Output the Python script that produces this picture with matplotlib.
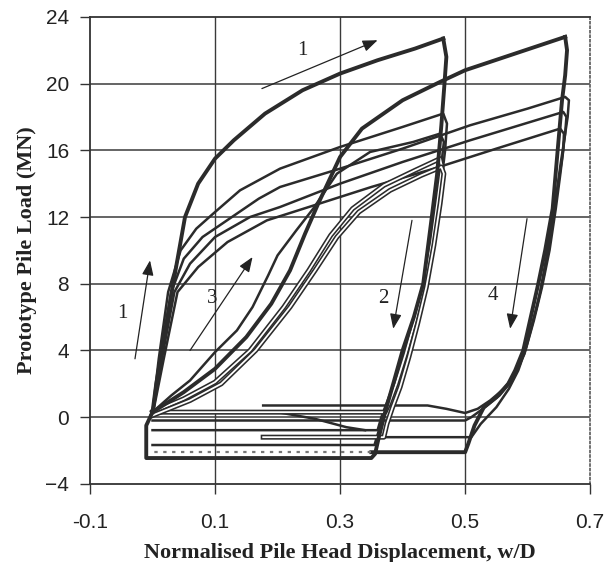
import matplotlib
matplotlib.use("Agg")
import matplotlib.pyplot as plt

# ---- datos (w/D, MN) ----
virgin_x = [0.0, 0.006, 0.015, 0.033, 0.052, 0.073, 0.1, 0.13, 0.18, 0.24, 0.3, 0.36, 0.42, 0.465]
virgin_y = [0.3, 2.0, 4.0, 8.0, 12.0, 14.0, 15.5, 16.6, 18.2, 19.6, 20.6, 21.4, 22.1, 22.7]

unload1_x = [0.465, 0.470, 0.467, 0.462, 0.455, 0.445, 0.433, 0.418, 0.40, 0.385, 0.372, 0.362, 0.356, 0.35, 0.0, -0.01, -0.01, 0.0]
unload1_y = [22.7, 21.6, 20.0, 17.5, 14.5, 11.5, 8.0, 6.0, 4.0, 2.0, 0.3, -1.2, -2.2, -2.45, -2.45, -2.45, -0.5, 0.3]

reload2_x = [0.0, 0.05, 0.1, 0.15, 0.19, 0.22, 0.244, 0.265, 0.3, 0.335, 0.4, 0.46, 0.5, 0.58, 0.66]
reload2_y = [0.3, 1.5, 2.9, 4.8, 6.8, 8.8, 11.0, 12.8, 15.6, 17.3, 19.0, 20.1, 20.8, 21.8, 22.8]

unload4_x = [0.66, 0.663, 0.66, 0.655, 0.648, 0.64, 0.628, 0.617, 0.605, 0.593, 0.58, 0.569, 0.55, 0.53, 0.515, 0.505, 0.5, 0.35]
unload4_y = [22.8, 22.0, 20.5, 19.0, 16.0, 12.5, 10.0, 8.0, 6.0, 4.0, 2.8, 2.0, 1.2, 0.6, -0.5, -1.6, -2.1, -2.1]
return4_x = [0.35, 0.0]
return4_y = [-2.1, -2.1]

# lazos hasta w/D = 0.46
loop_a_x = [0.0, 0.01, 0.025, 0.045, 0.07, 0.097, 0.14, 0.204, 0.3, 0.4, 0.465,
            0.471, 0.468, 0.46, 0.45, 0.437, 0.42, 0.403, 0.388, 0.375, 0.366, 0.36, 0.0]
loop_a_y = [0.3, 3.5, 7.5, 10.0, 11.3, 12.2, 13.6, 14.9, 16.2, 17.4, 18.2,
            17.6, 16.0, 13.5, 11.0, 8.3, 6.0, 4.0, 2.2, 0.9, 0.0, -0.78, -0.78]

loop3_up_x = [0.0, 0.03, 0.06, 0.1, 0.135, 0.16, 0.185, 0.2, 0.23, 0.257, 0.295, 0.348, 0.417, 0.46,
              0.466, 0.46, 0.452, 0.44, 0.425, 0.41, 0.393, 0.38, 0.37, 0.362, 0.355, 0.0]
loop3_up_y = [0.3, 1.3, 2.2, 3.9, 5.2, 6.6, 8.5, 9.7, 11.2, 12.5, 14.6, 15.9, 16.5, 17.0,
              16.5, 14.5, 12.0, 9.0, 6.5, 4.5, 2.5, 1.2, 0.3, -0.8, -1.67, -1.67]

loop3_lo_x = [0.0, 0.05, 0.1, 0.156, 0.21, 0.25, 0.285, 0.32, 0.37, 0.42, 0.46,
              0.463, 0.456, 0.447, 0.435, 0.42, 0.405, 0.39, 0.378, 0.372, 0.0]
loop3_lo_y = [0.3, 1.1, 2.1, 4.0, 6.6, 8.8, 10.9, 12.5, 13.9, 14.8, 15.5,
              15.0, 13.0, 10.5, 8.0, 5.8, 3.8, 2.0, 0.8, 0.3, 0.3]

loop3_lo2_x = [0.0, 0.06, 0.11, 0.165, 0.22, 0.26, 0.295, 0.33, 0.38, 0.43, 0.462,
               0.466, 0.46, 0.45, 0.438, 0.424, 0.41, 0.396, 0.384, 0.375, 0.37, 0.177]
loop3_lo2_y = [0.1, 1.0, 2.0, 4.0, 6.6, 8.8, 10.8, 12.3, 13.6, 14.5, 15.0,
               14.6, 12.8, 10.3, 7.8, 5.6, 3.6, 1.8, 0.6, -0.4, -1.2, -1.2]

# lazos hasta w/D = 0.66
loop_b_x = [0.0, 0.012, 0.03, 0.05, 0.08, 0.127, 0.17, 0.204, 0.3, 0.4, 0.508, 0.6, 0.66,
            0.666, 0.664, 0.66, 0.652, 0.643, 0.632, 0.62, 0.607, 0.595, 0.58, 0.562, 0.54,
            0.52, 0.5, 0.47, 0.44, 0.177]
loop_b_y = [0.3, 3.5, 7.5, 9.5, 10.8, 12.0, 13.1, 13.8, 14.9, 16.1, 17.5, 18.5, 19.2,
            19.0, 18.0, 17.0, 15.0, 12.5, 10.0, 7.5, 5.5, 3.8, 2.6, 1.7, 1.0,
            0.5, 0.25, 0.5, 0.7, 0.7]

loop_c_x = [0.0, 0.015, 0.035, 0.06, 0.1, 0.156, 0.204, 0.3, 0.4, 0.508, 0.657,
            0.662, 0.66, 0.655, 0.647, 0.637, 0.626, 0.614, 0.601, 0.588, 0.573, 0.555,
            0.532, 0.51, 0.5, 0.0]
loop_c_y = [0.1, 3.5, 7.5, 9.2, 10.8, 12.0, 12.6, 14.0, 15.3, 16.6, 18.3,
            18.0, 17.0, 15.5, 13.5, 11.0, 8.5, 6.5, 4.8, 3.2, 2.1, 1.3,
            0.6, 0.0, -0.2, -0.2]

loop_d_x = [0.0, 0.018, 0.04, 0.073, 0.12, 0.183, 0.25, 0.35, 0.45, 0.55, 0.652,
            0.658, 0.657, 0.652, 0.645, 0.635, 0.623, 0.61, 0.598, 0.585, 0.57, 0.55,
            0.525, 0.51, 0.36]
loop_d_y = [0.1, 3.5, 7.5, 9.0, 10.5, 11.8, 12.6, 13.8, 14.9, 16.1, 17.3,
            17.0, 16.0, 14.5, 12.5, 10.0, 7.8, 5.8, 4.2, 2.8, 1.7, 0.6,
            -0.4, -1.2, -1.2]

dip_x = [0.2, 0.26, 0.31, 0.34]
dip_y = [0.3, -0.1, -0.6, -0.78]

# flechas y numeros
arrow_tails = [(0.175, 19.7), (-0.028, 3.5), (0.06, 4.0), (0.415, 11.8), (0.599, 11.9)]
arrow_heads = [(0.36, 22.6), (-0.004, 9.4), (0.16, 9.6), (0.385, 5.3), (0.572, 5.3)]
label_text = ['1', '1', '3', '2', '4']
label_pos = [(0.24, 22.0), (-0.049, 6.2), (0.095, 7.1), (0.369, 7.1), (0.545, 7.3)]

x_ticks = [-0.1, 0.1, 0.3, 0.5, 0.7]
y_ticks = [-4, 0, 4, 8, 12, 16, 20, 24]

ink = '#2b2b2b'

fig = plt.figure(figsize=(6.1, 5.62), dpi=100)
ax = fig.add_axes([0.1475, 0.139, 0.82, 0.831])

for gx in [0.1, 0.3, 0.5]:
    ax.axvline(gx, color='#3a3a3a', lw=1.0, zorder=1)
for gy in y_ticks[1:-1]:
    ax.axhline(gy, color='#3a3a3a', lw=1.1, zorder=1)

# curvas normales
for xs, ys in [(loop_a_x, loop_a_y), (loop_b_x, loop_b_y), (loop_c_x, loop_c_y),
               (loop_d_x, loop_d_y), (loop3_up_x, loop3_up_y), (dip_x, dip_y)]:
    ax.plot(xs, ys, color=ink, lw=1.8, zorder=3, solid_joinstyle='round')

# curvas dobles (trazo hueco, como en el escaneo)
for xs, ys in [(loop3_lo_x, loop3_lo_y), (loop3_lo2_x, loop3_lo2_y)]:
    ax.plot(xs, ys, color=ink, lw=3.6, zorder=3)
    ax.plot(xs, ys, color='white', lw=1.3, zorder=3)

# curvas gruesas
for xs, ys in [(virgin_x, virgin_y), (unload1_x, unload1_y),
               (reload2_x, reload2_y), (unload4_x, unload4_y)]:
    ax.plot(xs, ys, color=ink, lw=2.8, zorder=4, solid_joinstyle='round')
ax.plot(return4_x, return4_y, color='#777777', lw=1.6, ls=(0, (1.5, 2.5)), zorder=4)

for tail, head in zip(arrow_tails, arrow_heads):
    ax.annotate('', xy=head, xytext=tail,
                arrowprops=dict(arrowstyle='-|>,head_length=0.9,head_width=0.35',
                                color='#222222', lw=0.9, shrinkA=0, shrinkB=0), zorder=5)
for t, (lx, ly) in zip(label_text, label_pos):
    ax.text(lx, ly, t, fontsize=15, family='Liberation Serif', color='#222222',
            ha='center', va='center', zorder=5)

ax.set_xlim(-0.1, 0.7)
ax.set_ylim(-4, 24)
ax.set_xticks(x_ticks)
ax.set_xticklabels([f'{v:.1f}' for v in x_ticks])
ax.set_yticks(y_ticks)
ax.tick_params(axis='both', direction='out', length=7, width=1.0, color='#333333',
               labelsize=15, labelcolor='#222222')
ax.tick_params(axis='x', pad=14)
ax.tick_params(axis='y', pad=8)
for lab in ax.get_xticklabels() + ax.get_yticklabels():
    lab.set_family('Liberation Sans')

for s in ['left', 'bottom', 'top']:
    ax.spines[s].set_color('#333333')
    ax.spines[s].set_linewidth(1.3)
ax.spines['right'].set_color('#666666')
ax.spines['right'].set_linestyle((0, (1, 1.5)))
ax.spines['right'].set_linewidth(1.3)

ax.set_xlabel('Normalised Pile Head Displacement, w/D', fontsize=16, fontweight='bold',
              family='Liberation Serif', color='#222222', labelpad=8)
ax.set_ylabel('Prototype Pile Load (MN)', fontsize=16, fontweight='bold',
              family='Liberation Serif', color='#222222', labelpad=6)

fig.savefig('out.png', dpi=100)
